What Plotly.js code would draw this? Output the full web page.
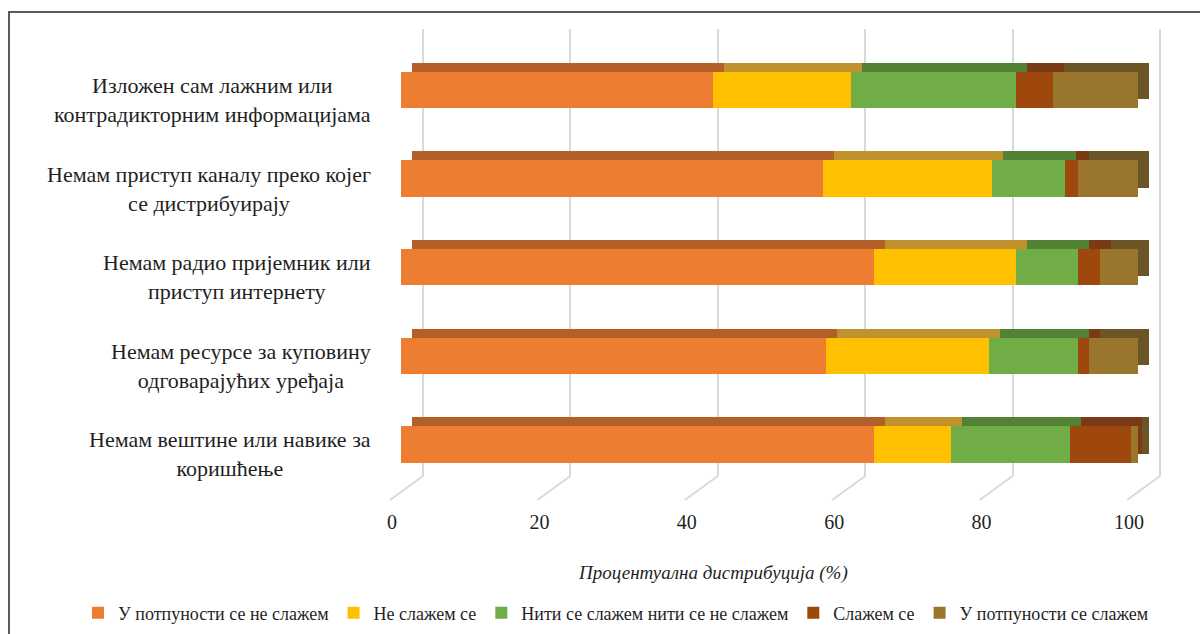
<!DOCTYPE html>
<html>
<head>
<meta charset="utf-8">
<script src="https://cdn.plot.ly/plotly-3.0.1.min.js"></script>
<style>
  html, body { margin: 0; padding: 0; background: #fff; }
  #chart { width: 1200px; height: 634px; }
  #frame { position: absolute; left: 8px; top: 11px; width: 1300px; height: 700px;
           border-top: 2px solid #5a5a5a; border-left: 2px solid #5a5a5a; pointer-events: none; }
</style>
</head>
<body>
<div id="chart"></div>
<div id="frame"></div>
<script>
// ---- data ----
const categories = [
  "Изложен сам лажним или<br>контрадикторним информацијама",
  "Немам приступ каналу преко којег<br>се дистрибуирају",
  "Немам радио пријемник или<br>приступ интернету",
  "Немам ресурсе за куповину<br>одговарајућих уређаја",
  "Немам вештине или навике за<br>коришћење"
];
const seriesNames = [
  "У потпуности се не слажем",
  "Не слажем се",
  "Нити се слажем нити се не слажем",
  "Слажем се",
  "У потпуности се слажем"
];
const stronglyDisagree = [42.4, 57.2, 64.2, 57.6, 64.2];
const disagree         = [18.6, 23.0, 19.3, 22.2, 10.4];
const neutral          = [22.5,  9.9,  8.3, 12.0, 16.2];
const agree            = [ 5.0,  1.7,  3.1,  1.5,  8.2];
const stronglyAgree    = [11.5,  8.2,  5.1,  6.7,  1.0];
const tickValues = [0, 20, 40, 60, 80, 100];
const axisTitle = "Процентуална дистрибуција (%)";

// ---- styling ----
const series = [stronglyDisagree, disagree, neutral, agree, stronglyAgree];
const frontColors = ['#ED7D31', '#FFC000', '#70AD47', '#9E480E', '#9A762D'];
const backColors  = ['#B55F28', '#C0922D', '#548235', '#7A3A16', '#6B5425'];
const FONT = 'Liberation Serif';
const W = 1200, H = 634;
const px = v => v / W;
const py = v => 1 - v / H;

// back wall grid geometry (pixels)
const GX0 = 423, GX1 = 1160, GTOP = 29, GBOT = 476;
const gUnit = (GX1 - GX0) / 100;

const traces = [];
traces.push({ type: 'scatter', x: [], y: [], xaxis: 'x', yaxis: 'y', showlegend: false, hoverinfo: 'skip' });
series.forEach((vals, i) => {
  traces.push({
    type: 'bar', orientation: 'h', x: vals, y: categories, name: seriesNames[i],
    xaxis: 'x2', yaxis: 'y2', width: 0.41, showlegend: false,
    marker: { color: backColors[i], line: { width: 0 } }
  });
});
series.forEach((vals, i) => {
  traces.push({
    type: 'bar', orientation: 'h', x: vals, y: categories, name: seriesNames[i],
    xaxis: 'x3', yaxis: 'y3', width: 0.41,
    marker: { color: frontColors[i], line: { width: 0 } }
  });
});

// floor lines of the 3D grid
const shapes = tickValues.map(t => {
  const xb = GX0 + t * gUnit;
  return {
    type: 'line', layer: 'below', xref: 'paper', yref: 'paper',
    x0: px(xb), y0: py(GBOT), x1: px(xb - 33), y1: py(GBOT + 24),
    line: { color: '#D9D9D9', width: 2 }
  };
});

const annotations = categories.map(c => ({
  text: c, xref: 'paper', x: px(373), xanchor: 'right',
  yref: 'y3', y: c, yshift: -10, align: 'center', showarrow: false,
  font: { family: FONT, size: 22, color: '#1f1f1f' }
}));
annotations.push({
  text: '<i>' + axisTitle + '</i>', xref: 'paper', yref: 'paper',
  x: px(713), y: py(573), xanchor: 'center', yanchor: 'middle', showarrow: false,
  font: { family: FONT, size: 19, color: '#1f1f1f' }
});

const layout = {
  width: W, height: H, autosize: false,
  font: { family: FONT },
  margin: { l: 0, r: 0, t: 0, b: 0, autoexpand: false },
  paper_bgcolor: '#ffffff', plot_bgcolor: 'rgba(0,0,0,0)',
  barmode: 'stack', hovermode: false,
  xaxis: {
    domain: [px(GX0 - gUnit), px(GX1 + gUnit)], range: [-1, 101], anchor: 'y',
    tickmode: 'array', tickvals: tickValues, showticklabels: false, ticks: '',
    showgrid: true, gridcolor: '#D9D9D9', gridwidth: 2, zeroline: false, showline: false, fixedrange: true
  },
  yaxis: { domain: [py(GBOT), py(GTOP)], range: [0, 1], anchor: 'x', visible: false, fixedrange: true },
  xaxis2: { domain: [px(412), px(1149)], range: [0, 100], anchor: 'y2', visible: false, fixedrange: true },
  yaxis2: { domain: [py(479.8), py(36.7)], type: 'category', range: [4.5, -0.5], anchor: 'x2', visible: false, fixedrange: true },
  xaxis3: {
    domain: [px(401), px(1138)], range: [0, 100], anchor: 'y3',
    tickmode: 'array', tickvals: tickValues, ticks: '', showgrid: false, zeroline: false, showline: false,
    ticklabelshift: -9, ticklabelstandoff: 19,
    tickfont: { family: FONT, size: 20, color: '#1f1f1f' }, fixedrange: true
  },
  yaxis3: {
    domain: [py(488.8), py(45.7)], type: 'category', range: [4.5, -0.5], anchor: 'x3',
    showticklabels: false, showgrid: false, zeroline: false, showline: false, ticks: '', fixedrange: true
  },
  showlegend: true,
  legend: {
    orientation: 'h', x: px(616), xanchor: 'center', y: py(613), yanchor: 'middle',
    font: { family: FONT, size: 18, color: '#1f1f1f' }, traceorder: 'normal',
    itemwidth: 30, bgcolor: 'rgba(0,0,0,0)'
  },
  shapes: shapes,
  annotations: annotations
};

Plotly.newPlot('chart', traces, layout, { staticPlot: true, displayModeBar: false });
</script>
</body>
</html>
